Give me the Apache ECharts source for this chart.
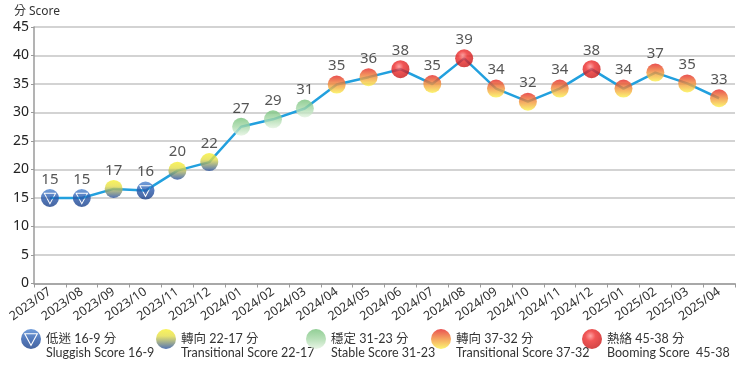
<!DOCTYPE html>
<html><head><meta charset="utf-8">
<script src="https://cdn.jsdelivr.net/npm/echarts@6/dist/echarts.min.js"></script>
<style>html,body{margin:0;padding:0;background:#fff}#c{width:743px;height:376px}</style>
</head><body><div id="c"></div>
<script>
var categories = ['2023/07','2023/08','2023/09','2023/10','2023/11','2023/12','2024/01','2024/02','2024/03','2024/04','2024/05','2024/06','2024/07','2024/08','2024/09','2024/10','2024/11','2024/12','2025/01','2025/02','2025/03','2025/04'];
var scores = [15,15,16.6,16.3,19.8,21.3,27.5,28.8,30.7,34.9,36.2,37.6,35,39.5,34.2,31.9,34.2,37.6,34.2,37,35.1,32.5];
var scoreLabels = [15,15,17,16,20,22,27,29,31,35,36,38,35,39,34,32,34,38,34,37,35,33];
var levels = ['slug','slug','t1','slug','t1','t1','stable','stable','stable','t2','t2','boom','t2','boom','t2','t2','t2','boom','t2','t2','t2','t2'];
var levelKeys = ['slug','t1','stable','t2','boom'];
var levelNames = {
  slug: '低迷 16-9 分\nSluggish Score 16-9',
  t1: '轉向 22-17 分\nTransitional Score 22-17',
  stable: '穩定 31-23 分\nStable Score 31-23',
  t2: '轉向 37-32 分\nTransitional Score 37-32',
  boom: '熱絡 45-38 分\nBooming Score  45-38'
};
var yTicks = {min: 0, max: 45, interval: 5};

var FONT = "'Noto Sans','Noto Sans CJK TC',sans-serif";
var LFONT = "Lato,'Noto Sans CJK TC',sans-serif";
var circ = 'M0,10 A10,10 0 1,1 20,10 A10,10 0 1,1 0,10 Z';
var tri = ' M2.8,4.2 L10,17.6 L17.2,4.2 Z M4.6,5.3 L15.4,5.3 L10,15.3 Z';
var pad = ' M10,34 L10.01,34 Z';
var symPath = {slug:'path://'+circ+tri};
var legPath = {slug:'path://'+circ+tri+pad};
function stopsOf(s){return s.map(function(a){return {offset:a[0],color:a[1]};});}
function lin(stops,h){return {type:'linear',x:0,y:0,x2:0,y2:h||1,colorStops:stopsOf(stops)};}
function rad(x,y,r,stops,h){return {type:'radial',x:x,y:y*(h||1),r:r,colorStops:stopsOf(stops)};}
var G = {
  slug: function(h){return lin([[0,'#4f86d2'],[0.5,'#2858aa'],[1,'#183e88']],h);},
  t1: function(h){return lin([[0,'#f8f034'],[0.35,'#e4de48'],[1,'#2850a2']],h);},
  stable: function(h){return lin([[0,'#76c27b'],[0.5,'#a6d8a7'],[1,'#e4f3e1']],h);},
  t2: function(h){return lin([[0,'#e42626'],[0.5,'#f2903a'],[1,'#fbf34e']],h);},
  boom: function(h){return rad(0.42,0.35,0.72,[[0,'#ff8e8e'],[0.35,'#ee2b2b'],[1,'#c21414']],h);}
};
var legendLeft = {slug:21, t1:156, stable:306, t2:431, boom:582};

var series = [{
  type:'line', data: scores, symbol:'none', z:1, silent:true,
  lineStyle:{color:'#22a0de', width:2.5}
}];
levelKeys.forEach(function(k){
  series.push({
    type:'scatter', name:k, z:3,
    symbol: symPath[k] || 'circle',
    symbolSize: 18,
    itemStyle:{color: G[k](1)},
    data: scores.map(function(v,i){return levels[i]===k ? v : '-';}),
    label:{show:true, position:'top', distance:2, fontSize:15, color:'#2a2a2a', fontFamily:FONT,
      formatter:function(p){return String(scoreLabels[p.dataIndex]);}}
  });
});

var legends = levelKeys.map(function(k){
  return {
    left: legendLeft[k], top: 329, padding:0, orient:'horizontal',
    itemWidth:20, itemHeight:34, selectedMode:false,
    data:[{name:k, icon: legPath[k] || ('path://'+circ+pad), itemStyle:{color:G[k](20/34)}}],
    formatter:function(n){return levelNames[n];},
    textStyle:{fontSize:12.5, lineHeight:14, color:'#333', fontFamily:LFONT}
  };
});

var chart = echarts.init(document.getElementById('c'), null, {renderer:'canvas'});
chart.setOption({
  animation:false,
  backgroundColor:'#fff',
  grid:{left:34, right:8, top:27, bottom:92.5, containLabel:false},
  legend: legends,
  xAxis:{
    type:'category', data:categories, boundaryGap:true,
    axisLine:{lineStyle:{color:'#9a9a9a', width:1.5}},
    axisTick:{show:true, length:4, lineStyle:{color:'#9a9a9a'}},
    axisLabel:{rotate:35, fontSize:12.5, color:'#333', fontFamily:FONT, margin:7, interval:0, padding:[0,0,0,8]}
  },
  yAxis:{
    type:'value', min:yTicks.min, max:yTicks.max, interval:yTicks.interval,
    name:'分 Score', nameLocation:'end', nameGap:9,
    nameTextStyle:{fontSize:12, color:'#333', fontFamily:FONT, padding:[0,0,0,6]},
    axisLine:{show:true, lineStyle:{color:'#9a9a9a', width:1.5}},
    axisTick:{show:true, length:3, lineStyle:{color:'#9a9a9a'}},
    axisLabel:{fontSize:14, color:'#222', fontFamily:FONT, margin:5},
    splitLine:{lineStyle:{color:'#c4c4c4', width:1.5}}
  },
  series: series
});
</script></body></html>
